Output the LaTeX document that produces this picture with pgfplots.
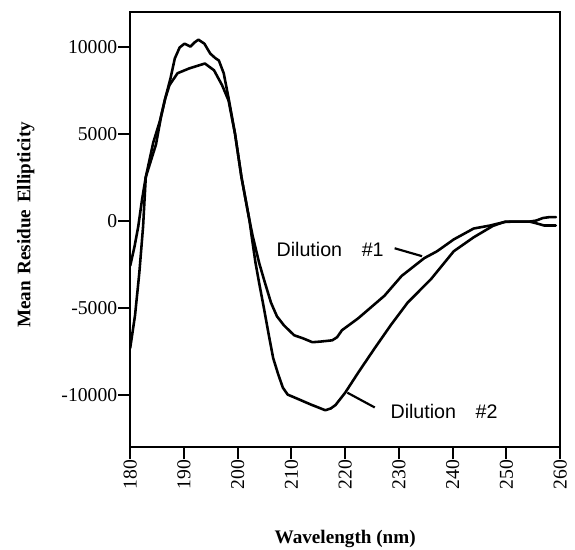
\documentclass[border=0pt]{standalone}
\usepackage{pgfplots}
\pgfplotsset{compat=1.18}
\usepackage{fontspec}
\setmainfont{Liberation Serif}
\newfontfamily\sansf{Liberation Sans}
\begin{document}
\begin{tikzpicture}
\begin{axis}[
  scale only axis,
  width=436bp, height=441bp,
  xmin=180, xmax=260, ymin=-13000, ymax=12000,
  xtick={180,190,200,210,220,230,240,250,260},
  xticklabels={180,190,200,210,220,230,240,250,260},
  ytick={-10000,-5000,0,5000,10000},
  yticklabels={-10000,-5000,0,5000,10000},
  xtick pos=bottom, ytick pos=left,
  tick align=outside,
  major tick length=12bp,
  every tick/.style={line width=2bp, black},
  axis line style={line width=2.2bp},
  tick label style={font=\fontsize{20}{20}\selectfont},
  xticklabel style={rotate=90, anchor=east, inner sep=1bp},
  yticklabel style={inner sep=1bp},
  xlabel={\bfseries Wavelength (nm)},
  ylabel={\bfseries Mean\hspace{0.35em}Residue\hspace{0.35em}Ellipticity},
  label style={font=\fontsize{19.5}{19.5}\selectfont},
  xlabel style={at={(axis description cs:0.5,-0.213)}, anchor=center},
  ylabel style={at={(axis description cs:-0.243,0.51)}, anchor=center},
  clip=true,
]
\addplot[black, line width=2.6bp, line join=round, line cap=round] coordinates {
(180,-7330) (180.9,-5450) (181.7,-3000) (182.4,-340) (182.9,2500) (184.3,4500)
(185.5,5700) (186.5,7000) (187.5,8180) (188.3,9320) (189.2,9950) (190.1,10170)
(191.2,10000) (192.0,10250) (192.7,10400) (193.8,10170) (194.9,9600) (195.8,9350)
(196.5,9200) (197.4,8470) (198.3,7045) (199.5,5000) (200.7,2500) (202.2,0)
(202.6,-900) (203.3,-2400) (204.0,-3600) (204.8,-4900) (205.8,-6600) (206.6,-7900)
(207.5,-8800) (208.4,-9600) (209.3,-10000) (211.2,-10250) (213.6,-10570) (216.3,-10900)
(217.3,-10800) (218.2,-10600) (220.0,-9890) (222.5,-8700) (225.5,-7330) (228.5,-6000)
(231.6,-4720) (236,-3350) (240.2,-1760) (243.9,-960) (247.5,-300) (249.6,-80)
(251.2,-57) (254.3,-57) (255.5,0) (256.8,150) (258.0,200) (259.2,200)
};
\addplot[black, line width=2.6bp, line join=round, line cap=round] coordinates {
(180,-2600) (180.8,-1500) (181.5,-340) (182.2,1200) (182.9,2500) (184.8,4380)
(185.7,5900) (186.5,7000) (187.3,7780) (188.8,8470) (191,8750) (193.9,9030)
(195.6,8640) (197.1,7780) (198.3,6900) (199.5,5000) (200.7,2500) (202.2,0)
(202.8,-900) (204,-2440) (205,-3500) (206.2,-4720) (207.3,-5500) (208.6,-6020)
(210.5,-6590) (212.1,-6760) (213.9,-6990) (215.5,-6950) (217.6,-6880) (218.5,-6700)
(219.4,-6300) (222.4,-5620) (227.3,-4320) (230.5,-3180) (234.7,-2160) (237.1,-1760)
(240.2,-1080) (243.9,-455) (247,-280) (249.9,-57) (254.3,-57) (255.5,-150)
(257,-280) (259.2,-280)
};
\node[font=\sansf\fontsize{20}{20}\selectfont, anchor=center] at (axis cs:217.2,-1650) {Dilution\hspace{1em}\#1};
\node[font=\sansf\fontsize{20}{20}\selectfont, anchor=center] at (axis cs:238.4,-10960) {Dilution\hspace{1em}\#2};
\draw[line width=2.2bp] (axis cs:229.2,-1590) -- (axis cs:234.3,-2045);
\draw[line width=2.2bp] (axis cs:225.5,-10740) -- (axis cs:220.4,-9890);
\coordinate (bl) at (rel axis cs:0,0);
\coordinate (tr) at (rel axis cs:1,1);
\end{axis}
\pgfresetboundingbox
\path[use as bounding box] ([xshift=-132bp,yshift=-104bp]bl) rectangle ([xshift=15bp,yshift=12bp]tr);
\end{tikzpicture}
\end{document}
